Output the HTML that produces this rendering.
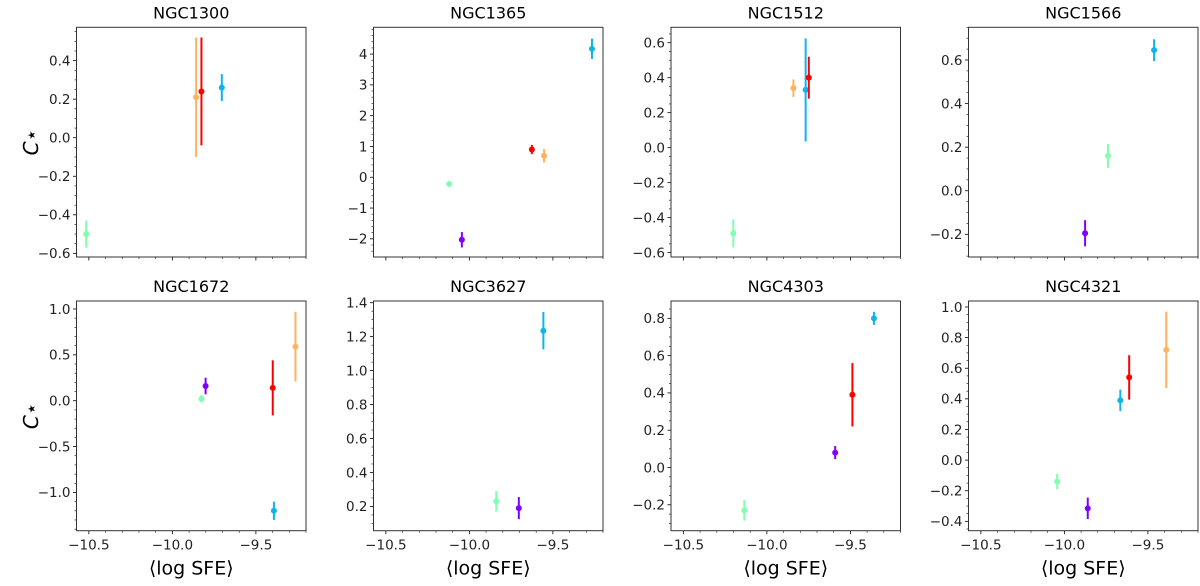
<!DOCTYPE html>
<html><head><meta charset="utf-8"><style>
body{margin:0;background:#fff;}
svg{display:block;font-family:"DejaVu Sans","Liberation Sans",sans-serif;}
</style></head><body>
<svg id="fig" width="1200" height="586" viewBox="0 0 1200 586"></svg>
<script>
const galaxies = ["NGC1300","NGC1365","NGC1512","NGC1566","NGC1672","NGC3627","NGC4303","NGC4321"];
const colorNames = ["purple","green","cyan","orange","red"];
const colorVals = ["#8000ff","#80ffb0","#10b4ec","#ffb360","#ff0000"];
// per-galaxy points: [colorIndex, x, y, err]
const pts1300 = [[1,-10.516,-0.50,0.07],[3,-9.858,0.21,0.31],[4,-9.826,0.24,0.28],[2,-9.704,0.26,0.07]];
const pts1365 = [[1,-10.121,-0.22,0.05],[0,-10.045,-2.03,0.25],[4,-9.626,0.90,0.15],[3,-9.553,0.70,0.22],[2,-9.266,4.17,0.33]];
const pts1512 = [[1,-10.201,-0.49,0.08],[3,-9.841,0.34,0.05],[2,-9.768,0.33,0.295],[4,-9.749,0.40,0.12]];
const pts1566 = [[0,-9.876,-0.195,0.06],[1,-9.739,0.16,0.055],[2,-9.463,0.645,0.05]];
const pts1672 = [[1,-9.826,0.02,0.04],[0,-9.801,0.16,0.09],[4,-9.399,0.14,0.30],[2,-9.392,-1.20,0.10],[3,-9.263,0.59,0.38]];
const pts3627 = [[1,-9.839,0.23,0.06],[0,-9.704,0.19,0.065],[2,-9.557,1.235,0.11]];
const pts4303 = [[1,-10.135,-0.23,0.055],[0,-9.591,0.08,0.035],[4,-9.488,0.39,0.17],[2,-9.359,0.80,0.035]];
const pts4321 = [[1,-10.043,-0.14,0.05],[0,-9.860,-0.315,0.07],[2,-9.665,0.39,0.07],[4,-9.612,0.54,0.145],[3,-9.390,0.72,0.25]];
const allPts = [pts1300,pts1365,pts1512,pts1566,pts1672,pts3627,pts4303,pts4321];
const yRanges = [[-0.619,0.573],[-2.59,4.87],[-0.625,0.688],[-0.304,0.75],[-1.417,1.087],[0.057,1.41],[-0.339,0.893],[-0.461,1.039]];
const yMajor = [0.2,1,0.2,0.2,0.5,0.2,0.2,0.2];
const yMinorDiv = [4,5,4,4,5,4,4,4];
const xRange = [-10.574,-9.2];
const xTicks = [-10.5,-10.0,-9.5];
const xTickLabels = ["\u221210.5","\u221210.0","\u22129.5"];

const NS="http://www.w3.org/2000/svg";
const svg=document.getElementById('fig');
function mk(tag,attrs,parent){const e=document.createElementNS(NS,tag);for(const k in attrs)e.setAttribute(k,attrs[k]);(parent||svg).appendChild(e);return e;}
const lefts=[76.5,373.5,671,968.5], W=229.5;
const tops=[27.3,301], H=229.7;
function fmt(v,step){let s=step<1?v.toFixed(1):v.toFixed(0);if(Math.abs(v)<1e-9)s=step<1?"0.0":"0";return s.replace('-','\u2212');}
galaxies.forEach((g,i)=>{
  const col=i%4,row=Math.floor(i/4);
  const L=lefts[col],T=tops[row],B=T+H,R=L+W;
  const [y0,y1]=yRanges[i];
  const xs=v=>L+(v-xRange[0])/(xRange[1]-xRange[0])*W;
  const ys=v=>B-(v-y0)/(y1-y0)*H;
  const grp=mk('g',{});
  
  
  const t=mk('text',{x:L+W/2,y:T-9,'text-anchor':'middle','font-size':16,fill:'#000'},grp);t.textContent=g;
  
  
  const st=yMajor[i],mst=st/yMinorDiv[i];
  for(let v=Math.ceil(y0/mst-1e-6)*mst;v<=y1+1e-9;v+=mst){
    const y=ys(v);const isMaj=Math.abs(v/st-Math.round(v/st))<1e-4;
    mk('line',{x1:L,x2:L-(isMaj?3.5:2),y1:y,y2:y,stroke:'#000','stroke-width':isMaj?0.8:0.6},grp);
    if(isMaj){const tl=mk('text',{x:L-6,y:y+4.8,'text-anchor':'end','font-size':13.5,fill:'#222'},grp);tl.textContent=fmt(Math.round(v/st)*st,st);
      
      }
  }
  for(let k=Math.ceil(xRange[0]*10);k<=Math.floor(xRange[1]*10);k++){
    const v=k/10,x=xs(v),isMaj=(k%5===0);
    mk('line',{x1:x,x2:x,y1:B,y2:B+(isMaj?3.5:2),stroke:'#000','stroke-width':isMaj?0.8:0.6},grp);
  }
  if(row===1){xTicks.forEach((v,j)=>{const tl=mk('text',{x:xs(v),y:B+19,'text-anchor':'middle','font-size':13.5,fill:'#222'},grp);tl.textContent=xTickLabels[j];
    
    });
    const xl=mk('text',{x:L+W/2,y:B+44,'text-anchor':'middle','font-size':19,fill:'#000'},grp);xl.textContent='\u27E8log SFE\u27E9';
    
    }
  allPts[i].forEach(p=>{
    const c=colorVals[p[0]],x=xs(p[1]);
    const e=mk('line',{x1:x,x2:x,y1:ys(p[2]-p[3]),y2:ys(p[2]+p[3]),stroke:c,'stroke-width':2},grp);
    
    
    const d=mk('circle',{cx:x,cy:ys(p[2]),r:3,fill:c},grp);
    
    
  });
  const fr=mk('rect',{x:L,y:T,width:W,height:H,fill:'none',stroke:'#333','stroke-width':1},grp);
  
  
  if(col===0){const yl=mk('text',{x:0,y:0,'text-anchor':'middle','font-size':20,'font-style':'italic',fill:'#000',transform:`translate(38,${T+H/2}) rotate(-90)`},grp);
    yl.textContent='C\u22C6';
    
    }
});
</script>
</body></html>
